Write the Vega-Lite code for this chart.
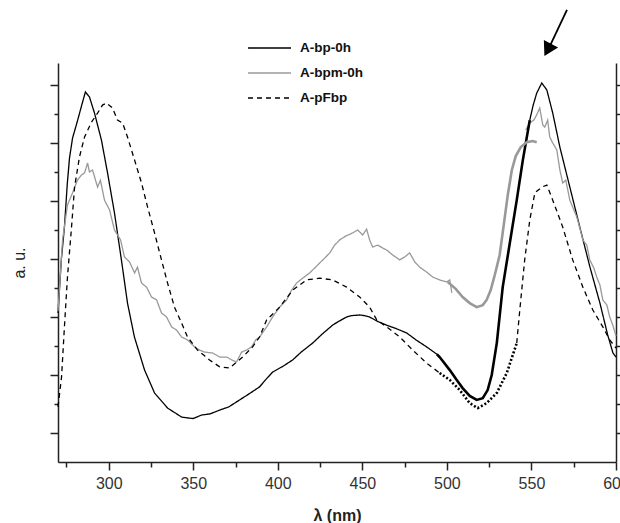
{
  "$schema": "https://vega.github.io/schema/vega-lite/v6.json",
  "width": 558,
  "height": 399,
  "autosize": {"type": "none"},
  "padding": {"left": 58, "top": 63, "right": 4, "bottom": 61},
  "background": "white",
  "config": {
    "view": {"stroke": null},
    "axis": {"grid": false, "domainColor": "#222", "tickColor": "#222", "domainWidth": 1.5, "tickWidth": 1.5, "labelFont": "Liberation Sans", "titleFont": "Liberation Sans", "labelColor": "#333", "titleColor": "#222"},
    "legend": {"orient": "none", "legendX": 189, "legendY": -27.5, "title": null, "symbolType": "stroke", "symbolSize": 1849, "symbolStrokeWidth": 1.5, "labelFontSize": 13.5, "labelFontWeight": "bold", "labelFont": "Liberation Sans", "labelColor": "#111", "labelOffset": 8, "rowPadding": 0, "clipHeight": 25}
  },
  "data": {"values": [
    {"series": "A-bp-0h", "part": "measured", "seg": 1, "wl": 270, "au": 5.14},
    {"series": "A-bp-0h", "part": "measured", "seg": 1, "wl": 272, "au": 7.0},
    {"series": "A-bp-0h", "part": "measured", "seg": 1, "wl": 273.8, "au": 8.1},
    {"series": "A-bp-0h", "part": "measured", "seg": 1, "wl": 275.5, "au": 9.6},
    {"series": "A-bp-0h", "part": "measured", "seg": 1, "wl": 276.8, "au": 10.48},
    {"series": "A-bp-0h", "part": "measured", "seg": 1, "wl": 278.6, "au": 11.17},
    {"series": "A-bp-0h", "part": "measured", "seg": 1, "wl": 281.5, "au": 11.76},
    {"series": "A-bp-0h", "part": "measured", "seg": 1, "wl": 284, "au": 12.3},
    {"series": "A-bp-0h", "part": "measured", "seg": 1, "wl": 286.2, "au": 12.76},
    {"series": "A-bp-0h", "part": "measured", "seg": 1, "wl": 288.6, "au": 12.59},
    {"series": "A-bp-0h", "part": "measured", "seg": 1, "wl": 291.6, "au": 12.03},
    {"series": "A-bp-0h", "part": "measured", "seg": 1, "wl": 295.7, "au": 11.1},
    {"series": "A-bp-0h", "part": "measured", "seg": 1, "wl": 299.3, "au": 9.97},
    {"series": "A-bp-0h", "part": "measured", "seg": 1, "wl": 303.4, "au": 8.59},
    {"series": "A-bp-0h", "part": "measured", "seg": 1, "wl": 307.5, "au": 6.97},
    {"series": "A-bp-0h", "part": "measured", "seg": 1, "wl": 311.1, "au": 5.48},
    {"series": "A-bp-0h", "part": "measured", "seg": 1, "wl": 315.2, "au": 4.31},
    {"series": "A-bp-0h", "part": "measured", "seg": 1, "wl": 321.2, "au": 3.17},
    {"series": "A-bp-0h", "part": "measured", "seg": 1, "wl": 327.1, "au": 2.38},
    {"series": "A-bp-0h", "part": "measured", "seg": 1, "wl": 334.8, "au": 1.86},
    {"series": "A-bp-0h", "part": "measured", "seg": 1, "wl": 343.1, "au": 1.55},
    {"series": "A-bp-0h", "part": "measured", "seg": 1, "wl": 346.6, "au": 1.52},
    {"series": "A-bp-0h", "part": "measured", "seg": 1, "wl": 350, "au": 1.5},
    {"series": "A-bp-0h", "part": "measured", "seg": 1, "wl": 354.9, "au": 1.62},
    {"series": "A-bp-0h", "part": "measured", "seg": 1, "wl": 360, "au": 1.66},
    {"series": "A-bp-0h", "part": "measured", "seg": 1, "wl": 365.6, "au": 1.79},
    {"series": "A-bp-0h", "part": "measured", "seg": 1, "wl": 371, "au": 1.9},
    {"series": "A-bp-0h", "part": "measured", "seg": 1, "wl": 377.4, "au": 2.14},
    {"series": "A-bp-0h", "part": "measured", "seg": 1, "wl": 383, "au": 2.35},
    {"series": "A-bp-0h", "part": "measured", "seg": 1, "wl": 389.2, "au": 2.59},
    {"series": "A-bp-0h", "part": "measured", "seg": 1, "wl": 393, "au": 2.85},
    {"series": "A-bp-0h", "part": "measured", "seg": 1, "wl": 396.9, "au": 3.1},
    {"series": "A-bp-0h", "part": "measured", "seg": 1, "wl": 403, "au": 3.3},
    {"series": "A-bp-0h", "part": "measured", "seg": 1, "wl": 408.8, "au": 3.52},
    {"series": "A-bp-0h", "part": "measured", "seg": 1, "wl": 414, "au": 3.8},
    {"series": "A-bp-0h", "part": "measured", "seg": 1, "wl": 420.6, "au": 4.1},
    {"series": "A-bp-0h", "part": "measured", "seg": 1, "wl": 426, "au": 4.4},
    {"series": "A-bp-0h", "part": "measured", "seg": 1, "wl": 432.4, "au": 4.72},
    {"series": "A-bp-0h", "part": "measured", "seg": 1, "wl": 436, "au": 4.85},
    {"series": "A-bp-0h", "part": "measured", "seg": 1, "wl": 440.7, "au": 5.0},
    {"series": "A-bp-0h", "part": "measured", "seg": 1, "wl": 444, "au": 5.05},
    {"series": "A-bp-0h", "part": "measured", "seg": 1, "wl": 448.4, "au": 5.07},
    {"series": "A-bp-0h", "part": "measured", "seg": 1, "wl": 451, "au": 5.05},
    {"series": "A-bp-0h", "part": "measured", "seg": 1, "wl": 454.3, "au": 5.0},
    {"series": "A-bp-0h", "part": "measured", "seg": 1, "wl": 459, "au": 4.85},
    {"series": "A-bp-0h", "part": "measured", "seg": 1, "wl": 464.3, "au": 4.72},
    {"series": "A-bp-0h", "part": "measured", "seg": 1, "wl": 470, "au": 4.6},
    {"series": "A-bp-0h", "part": "measured", "seg": 1, "wl": 476.2, "au": 4.45},
    {"series": "A-bp-0h", "part": "measured", "seg": 1, "wl": 482, "au": 4.2},
    {"series": "A-bp-0h", "part": "measured", "seg": 1, "wl": 488, "au": 3.97},
    {"series": "A-bp-0h", "part": "measured", "seg": 1, "wl": 494, "au": 3.72},
    {"series": "A-bp-0h", "part": "extrapolated", "seg": 2, "wl": 494, "au": 3.72},
    {"series": "A-bp-0h", "part": "extrapolated", "seg": 2, "wl": 495.7, "au": 3.62},
    {"series": "A-bp-0h", "part": "extrapolated", "seg": 2, "wl": 501.7, "au": 3.17},
    {"series": "A-bp-0h", "part": "extrapolated", "seg": 2, "wl": 505.5, "au": 2.85},
    {"series": "A-bp-0h", "part": "extrapolated", "seg": 2, "wl": 509.3, "au": 2.55},
    {"series": "A-bp-0h", "part": "extrapolated", "seg": 2, "wl": 513.5, "au": 2.28},
    {"series": "A-bp-0h", "part": "extrapolated", "seg": 2, "wl": 517.6, "au": 2.14},
    {"series": "A-bp-0h", "part": "extrapolated", "seg": 2, "wl": 521.2, "au": 2.2},
    {"series": "A-bp-0h", "part": "extrapolated", "seg": 2, "wl": 524.1, "au": 2.48},
    {"series": "A-bp-0h", "part": "extrapolated", "seg": 2, "wl": 526.5, "au": 3.0},
    {"series": "A-bp-0h", "part": "extrapolated", "seg": 2, "wl": 529.5, "au": 4.1},
    {"series": "A-bp-0h", "part": "extrapolated", "seg": 2, "wl": 533, "au": 6.03},
    {"series": "A-bp-0h", "part": "extrapolated", "seg": 2, "wl": 537.2, "au": 7.55},
    {"series": "A-bp-0h", "part": "extrapolated", "seg": 2, "wl": 541.3, "au": 9.03},
    {"series": "A-bp-0h", "part": "extrapolated", "seg": 2, "wl": 544.9, "au": 10.41},
    {"series": "A-bp-0h", "part": "extrapolated", "seg": 2, "wl": 549, "au": 11.79},
    {"series": "A-bp-0h", "part": "measured", "seg": 3, "wl": 549, "au": 11.79},
    {"series": "A-bp-0h", "part": "measured", "seg": 3, "wl": 551, "au": 12.3},
    {"series": "A-bp-0h", "part": "measured", "seg": 3, "wl": 553.1, "au": 12.72},
    {"series": "A-bp-0h", "part": "measured", "seg": 3, "wl": 556.1, "au": 13.07},
    {"series": "A-bp-0h", "part": "measured", "seg": 3, "wl": 559.1, "au": 12.83},
    {"series": "A-bp-0h", "part": "measured", "seg": 3, "wl": 562.6, "au": 12.03},
    {"series": "A-bp-0h", "part": "measured", "seg": 3, "wl": 566.8, "au": 10.86},
    {"series": "A-bp-0h", "part": "measured", "seg": 3, "wl": 572.7, "au": 9.48},
    {"series": "A-bp-0h", "part": "measured", "seg": 3, "wl": 578.6, "au": 8.1},
    {"series": "A-bp-0h", "part": "measured", "seg": 3, "wl": 584.6, "au": 6.72},
    {"series": "A-bp-0h", "part": "measured", "seg": 3, "wl": 590.5, "au": 5.48},
    {"series": "A-bp-0h", "part": "measured", "seg": 3, "wl": 595, "au": 4.4},
    {"series": "A-bp-0h", "part": "measured", "seg": 3, "wl": 598.2, "au": 3.76},
    {"series": "A-bp-0h", "part": "measured", "seg": 3, "wl": 600, "au": 3.62},

    {"series": "A-bpm-0h", "part": "measured", "seg": 4, "wl": 270, "au": 5.2},
    {"series": "A-bpm-0h", "part": "measured", "seg": 4, "wl": 272.7, "au": 7.66},
    {"series": "A-bpm-0h", "part": "measured", "seg": 4, "wl": 275.6, "au": 8.86},
    {"series": "A-bpm-0h", "part": "measured", "seg": 4, "wl": 278.6, "au": 9.28},
    {"series": "A-bpm-0h", "part": "measured", "seg": 4, "wl": 281.5, "au": 9.72},
    {"series": "A-bpm-0h", "part": "measured", "seg": 4, "wl": 283.9, "au": 9.9},
    {"series": "A-bpm-0h", "part": "measured", "seg": 4, "wl": 285.7, "au": 9.97},
    {"series": "A-bpm-0h", "part": "measured", "seg": 4, "wl": 287.5, "au": 10.31},
    {"series": "A-bpm-0h", "part": "measured", "seg": 4, "wl": 288.6, "au": 10.0},
    {"series": "A-bpm-0h", "part": "measured", "seg": 4, "wl": 290.4, "au": 10.07},
    {"series": "A-bpm-0h", "part": "measured", "seg": 4, "wl": 293.4, "au": 9.48},
    {"series": "A-bpm-0h", "part": "measured", "seg": 4, "wl": 295.1, "au": 9.72},
    {"series": "A-bpm-0h", "part": "measured", "seg": 4, "wl": 297.5, "au": 9.03},
    {"series": "A-bpm-0h", "part": "measured", "seg": 4, "wl": 300.5, "au": 8.69},
    {"series": "A-bpm-0h", "part": "measured", "seg": 4, "wl": 303.4, "au": 8.0},
    {"series": "A-bpm-0h", "part": "measured", "seg": 4, "wl": 307, "au": 7.66},
    {"series": "A-bpm-0h", "part": "measured", "seg": 4, "wl": 309.3, "au": 7.07},
    {"series": "A-bpm-0h", "part": "measured", "seg": 4, "wl": 312.3, "au": 6.9},
    {"series": "A-bpm-0h", "part": "measured", "seg": 4, "wl": 315.3, "au": 6.52},
    {"series": "A-bpm-0h", "part": "measured", "seg": 4, "wl": 317, "au": 6.72},
    {"series": "A-bpm-0h", "part": "measured", "seg": 4, "wl": 319.4, "au": 6.17},
    {"series": "A-bpm-0h", "part": "measured", "seg": 4, "wl": 322.4, "au": 6.03},
    {"series": "A-bpm-0h", "part": "measured", "seg": 4, "wl": 325.3, "au": 5.69},
    {"series": "A-bpm-0h", "part": "measured", "seg": 4, "wl": 328.3, "au": 5.59},
    {"series": "A-bpm-0h", "part": "measured", "seg": 4, "wl": 331.2, "au": 5.14},
    {"series": "A-bpm-0h", "part": "measured", "seg": 4, "wl": 334.2, "au": 5.0},
    {"series": "A-bpm-0h", "part": "measured", "seg": 4, "wl": 337.2, "au": 4.66},
    {"series": "A-bpm-0h", "part": "measured", "seg": 4, "wl": 340.1, "au": 4.55},
    {"series": "A-bpm-0h", "part": "measured", "seg": 4, "wl": 343.1, "au": 4.31},
    {"series": "A-bpm-0h", "part": "measured", "seg": 4, "wl": 346.6, "au": 4.21},
    {"series": "A-bpm-0h", "part": "measured", "seg": 4, "wl": 350.8, "au": 3.97},
    {"series": "A-bpm-0h", "part": "measured", "seg": 4, "wl": 353.7, "au": 3.86},
    {"series": "A-bpm-0h", "part": "measured", "seg": 4, "wl": 356.7, "au": 3.79},
    {"series": "A-bpm-0h", "part": "measured", "seg": 4, "wl": 361.4, "au": 3.76},
    {"series": "A-bpm-0h", "part": "measured", "seg": 4, "wl": 365.6, "au": 3.62},
    {"series": "A-bpm-0h", "part": "measured", "seg": 4, "wl": 369.7, "au": 3.62},
    {"series": "A-bpm-0h", "part": "measured", "seg": 4, "wl": 372.7, "au": 3.52},
    {"series": "A-bpm-0h", "part": "measured", "seg": 4, "wl": 375.6, "au": 3.45},
    {"series": "A-bpm-0h", "part": "measured", "seg": 4, "wl": 378.6, "au": 3.79},
    {"series": "A-bpm-0h", "part": "measured", "seg": 4, "wl": 381.5, "au": 3.86},
    {"series": "A-bpm-0h", "part": "measured", "seg": 4, "wl": 384.5, "au": 3.97},
    {"series": "A-bpm-0h", "part": "measured", "seg": 4, "wl": 386.9, "au": 4.21},
    {"series": "A-bpm-0h", "part": "measured", "seg": 4, "wl": 389.2, "au": 4.31},
    {"series": "A-bpm-0h", "part": "measured", "seg": 4, "wl": 393.4, "au": 4.66},
    {"series": "A-bpm-0h", "part": "measured", "seg": 4, "wl": 396.9, "au": 5.0},
    {"series": "A-bpm-0h", "part": "measured", "seg": 4, "wl": 401.1, "au": 5.34},
    {"series": "A-bpm-0h", "part": "measured", "seg": 4, "wl": 405.2, "au": 5.59},
    {"series": "A-bpm-0h", "part": "measured", "seg": 4, "wl": 408.2, "au": 5.93},
    {"series": "A-bpm-0h", "part": "measured", "seg": 4, "wl": 411.1, "au": 6.17},
    {"series": "A-bpm-0h", "part": "measured", "seg": 4, "wl": 414.7, "au": 6.34},
    {"series": "A-bpm-0h", "part": "measured", "seg": 4, "wl": 418.8, "au": 6.52},
    {"series": "A-bpm-0h", "part": "measured", "seg": 4, "wl": 421.8, "au": 6.69},
    {"series": "A-bpm-0h", "part": "measured", "seg": 4, "wl": 424.7, "au": 6.86},
    {"series": "A-bpm-0h", "part": "measured", "seg": 4, "wl": 427.7, "au": 7.03},
    {"series": "A-bpm-0h", "part": "measured", "seg": 4, "wl": 430.7, "au": 7.21},
    {"series": "A-bpm-0h", "part": "measured", "seg": 4, "wl": 433.6, "au": 7.48},
    {"series": "A-bpm-0h", "part": "measured", "seg": 4, "wl": 436.6, "au": 7.66},
    {"series": "A-bpm-0h", "part": "measured", "seg": 4, "wl": 440.1, "au": 7.79},
    {"series": "A-bpm-0h", "part": "measured", "seg": 4, "wl": 444.3, "au": 7.9},
    {"series": "A-bpm-0h", "part": "measured", "seg": 4, "wl": 447.2, "au": 8.0},
    {"series": "A-bpm-0h", "part": "measured", "seg": 4, "wl": 450.2, "au": 7.83},
    {"series": "A-bpm-0h", "part": "measured", "seg": 4, "wl": 452.5, "au": 8.03},
    {"series": "A-bpm-0h", "part": "measured", "seg": 4, "wl": 454.3, "au": 7.66},
    {"series": "A-bpm-0h", "part": "measured", "seg": 4, "wl": 456.1, "au": 7.41},
    {"series": "A-bpm-0h", "part": "measured", "seg": 4, "wl": 459, "au": 7.48},
    {"series": "A-bpm-0h", "part": "measured", "seg": 4, "wl": 462, "au": 7.38},
    {"series": "A-bpm-0h", "part": "measured", "seg": 4, "wl": 464.4, "au": 7.31},
    {"series": "A-bpm-0h", "part": "measured", "seg": 4, "wl": 467.9, "au": 7.14},
    {"series": "A-bpm-0h", "part": "measured", "seg": 4, "wl": 472.1, "au": 6.97},
    {"series": "A-bpm-0h", "part": "measured", "seg": 4, "wl": 475, "au": 7.07},
    {"series": "A-bpm-0h", "part": "measured", "seg": 4, "wl": 478, "au": 7.21},
    {"series": "A-bpm-0h", "part": "measured", "seg": 4, "wl": 481, "au": 6.9},
    {"series": "A-bpm-0h", "part": "measured", "seg": 4, "wl": 483.9, "au": 6.72},
    {"series": "A-bpm-0h", "part": "measured", "seg": 4, "wl": 488, "au": 6.55},
    {"series": "A-bpm-0h", "part": "measured", "seg": 4, "wl": 491.6, "au": 6.38},
    {"series": "A-bpm-0h", "part": "measured", "seg": 4, "wl": 495.7, "au": 6.28},
    {"series": "A-bpm-0h", "part": "measured", "seg": 4, "wl": 499.9, "au": 6.21},
    {"series": "A-bpm-0h", "part": "measured", "seg": 4, "wl": 501.7, "au": 6.28},
    {"series": "A-bpm-0h", "part": "measured", "seg": 4, "wl": 502.9, "au": 5.83},
    {"series": "A-bpm-0h", "part": "extrapolated", "seg": 5, "wl": 500.5, "au": 6.21},
    {"series": "A-bpm-0h", "part": "extrapolated", "seg": 5, "wl": 505.2, "au": 5.97},
    {"series": "A-bpm-0h", "part": "extrapolated", "seg": 5, "wl": 509.3, "au": 5.69},
    {"series": "A-bpm-0h", "part": "extrapolated", "seg": 5, "wl": 513.5, "au": 5.48},
    {"series": "A-bpm-0h", "part": "extrapolated", "seg": 5, "wl": 517.6, "au": 5.34},
    {"series": "A-bpm-0h", "part": "extrapolated", "seg": 5, "wl": 521.2, "au": 5.41},
    {"series": "A-bpm-0h", "part": "extrapolated", "seg": 5, "wl": 523.5, "au": 5.59},
    {"series": "A-bpm-0h", "part": "extrapolated", "seg": 5, "wl": 525.9, "au": 5.93},
    {"series": "A-bpm-0h", "part": "extrapolated", "seg": 5, "wl": 528.3, "au": 6.45},
    {"series": "A-bpm-0h", "part": "extrapolated", "seg": 5, "wl": 531.2, "au": 7.14},
    {"series": "A-bpm-0h", "part": "extrapolated", "seg": 5, "wl": 533.6, "au": 8.17},
    {"series": "A-bpm-0h", "part": "extrapolated", "seg": 5, "wl": 536, "au": 9.21},
    {"series": "A-bpm-0h", "part": "extrapolated", "seg": 5, "wl": 538.4, "au": 10.07},
    {"series": "A-bpm-0h", "part": "extrapolated", "seg": 5, "wl": 540.7, "au": 10.55},
    {"series": "A-bpm-0h", "part": "extrapolated", "seg": 5, "wl": 543.7, "au": 10.86},
    {"series": "A-bpm-0h", "part": "extrapolated", "seg": 5, "wl": 547.2, "au": 11.03},
    {"series": "A-bpm-0h", "part": "extrapolated", "seg": 5, "wl": 550.8, "au": 11.07},
    {"series": "A-bpm-0h", "part": "extrapolated", "seg": 5, "wl": 553.1, "au": 11.03},
    {"series": "A-bpm-0h", "part": "measured", "seg": 6, "wl": 546.6, "au": 11.45},
    {"series": "A-bpm-0h", "part": "measured", "seg": 6, "wl": 549, "au": 11.69},
    {"series": "A-bpm-0h", "part": "measured", "seg": 6, "wl": 551.4, "au": 11.79},
    {"series": "A-bpm-0h", "part": "measured", "seg": 6, "wl": 553.1, "au": 11.97},
    {"series": "A-bpm-0h", "part": "measured", "seg": 6, "wl": 554.9, "au": 12.21},
    {"series": "A-bpm-0h", "part": "measured", "seg": 6, "wl": 556.7, "au": 11.62},
    {"series": "A-bpm-0h", "part": "measured", "seg": 6, "wl": 557.9, "au": 11.55},
    {"series": "A-bpm-0h", "part": "measured", "seg": 6, "wl": 559.6, "au": 11.79},
    {"series": "A-bpm-0h", "part": "measured", "seg": 6, "wl": 560.8, "au": 11.21},
    {"series": "A-bpm-0h", "part": "measured", "seg": 6, "wl": 562.6, "au": 11.0},
    {"series": "A-bpm-0h", "part": "measured", "seg": 6, "wl": 565, "au": 10.76},
    {"series": "A-bpm-0h", "part": "measured", "seg": 6, "wl": 566.8, "au": 10.07},
    {"series": "A-bpm-0h", "part": "measured", "seg": 6, "wl": 568.5, "au": 9.62},
    {"series": "A-bpm-0h", "part": "measured", "seg": 6, "wl": 570.3, "au": 9.72},
    {"series": "A-bpm-0h", "part": "measured", "seg": 6, "wl": 572.7, "au": 9.03},
    {"series": "A-bpm-0h", "part": "measured", "seg": 6, "wl": 575.1, "au": 8.69},
    {"series": "A-bpm-0h", "part": "measured", "seg": 6, "wl": 576.8, "au": 8.45},
    {"series": "A-bpm-0h", "part": "measured", "seg": 6, "wl": 578.6, "au": 8.07},
    {"series": "A-bpm-0h", "part": "measured", "seg": 6, "wl": 580.4, "au": 7.66},
    {"series": "A-bpm-0h", "part": "measured", "seg": 6, "wl": 582.7, "au": 7.48},
    {"series": "A-bpm-0h", "part": "measured", "seg": 6, "wl": 584.5, "au": 6.97},
    {"series": "A-bpm-0h", "part": "measured", "seg": 6, "wl": 586.9, "au": 6.69},
    {"series": "A-bpm-0h", "part": "measured", "seg": 6, "wl": 588.6, "au": 6.38},
    {"series": "A-bpm-0h", "part": "measured", "seg": 6, "wl": 590.5, "au": 6.1},
    {"series": "A-bpm-0h", "part": "measured", "seg": 6, "wl": 592.2, "au": 5.59},
    {"series": "A-bpm-0h", "part": "measured", "seg": 6, "wl": 594.6, "au": 5.41},
    {"series": "A-bpm-0h", "part": "measured", "seg": 6, "wl": 596.3, "au": 5.0},
    {"series": "A-bpm-0h", "part": "measured", "seg": 6, "wl": 598.1, "au": 4.72},
    {"series": "A-bpm-0h", "part": "measured", "seg": 6, "wl": 600, "au": 4.35},

    {"series": "A-pFbp", "part": "measured", "seg": 7, "wl": 270, "au": 1.9},
    {"series": "A-pFbp", "part": "measured", "seg": 7, "wl": 272.1, "au": 2.93},
    {"series": "A-pFbp", "part": "measured", "seg": 7, "wl": 273.8, "au": 4.66},
    {"series": "A-pFbp", "part": "measured", "seg": 7, "wl": 275.6, "au": 6.38},
    {"series": "A-pFbp", "part": "measured", "seg": 7, "wl": 278, "au": 8.1},
    {"series": "A-pFbp", "part": "measured", "seg": 7, "wl": 279.8, "au": 9.48},
    {"series": "A-pFbp", "part": "measured", "seg": 7, "wl": 282.7, "au": 10.52},
    {"series": "A-pFbp", "part": "measured", "seg": 7, "wl": 285.7, "au": 11.21},
    {"series": "A-pFbp", "part": "measured", "seg": 7, "wl": 289.8, "au": 11.72},
    {"series": "A-pFbp", "part": "measured", "seg": 7, "wl": 293.4, "au": 12.03},
    {"series": "A-pFbp", "part": "measured", "seg": 7, "wl": 296.3, "au": 12.31},
    {"series": "A-pFbp", "part": "measured", "seg": 7, "wl": 298.7, "au": 12.38},
    {"series": "A-pFbp", "part": "measured", "seg": 7, "wl": 302.2, "au": 12.21},
    {"series": "A-pFbp", "part": "measured", "seg": 7, "wl": 305.2, "au": 11.79},
    {"series": "A-pFbp", "part": "measured", "seg": 7, "wl": 308.2, "au": 11.69},
    {"series": "A-pFbp", "part": "measured", "seg": 7, "wl": 311.1, "au": 11.21},
    {"series": "A-pFbp", "part": "measured", "seg": 7, "wl": 315.3, "au": 10.41},
    {"series": "A-pFbp", "part": "measured", "seg": 7, "wl": 319.4, "au": 9.62},
    {"series": "A-pFbp", "part": "measured", "seg": 7, "wl": 323, "au": 8.79},
    {"series": "A-pFbp", "part": "measured", "seg": 7, "wl": 327.1, "au": 7.9},
    {"series": "A-pFbp", "part": "measured", "seg": 7, "wl": 331.2, "au": 6.97},
    {"series": "A-pFbp", "part": "measured", "seg": 7, "wl": 334.8, "au": 6.17},
    {"series": "A-pFbp", "part": "measured", "seg": 7, "wl": 338.9, "au": 5.34},
    {"series": "A-pFbp", "part": "measured", "seg": 7, "wl": 343.1, "au": 4.79},
    {"series": "A-pFbp", "part": "measured", "seg": 7, "wl": 346.6, "au": 4.31},
    {"series": "A-pFbp", "part": "measured", "seg": 7, "wl": 352.5, "au": 3.86},
    {"series": "A-pFbp", "part": "measured", "seg": 7, "wl": 356.7, "au": 3.66},
    {"series": "A-pFbp", "part": "measured", "seg": 7, "wl": 359.6, "au": 3.52},
    {"series": "A-pFbp", "part": "measured", "seg": 7, "wl": 365.6, "au": 3.28},
    {"series": "A-pFbp", "part": "measured", "seg": 7, "wl": 371.5, "au": 3.24},
    {"series": "A-pFbp", "part": "measured", "seg": 7, "wl": 379.2, "au": 3.62},
    {"series": "A-pFbp", "part": "measured", "seg": 7, "wl": 385.1, "au": 3.97},
    {"series": "A-pFbp", "part": "measured", "seg": 7, "wl": 389.2, "au": 4.31},
    {"series": "A-pFbp", "part": "measured", "seg": 7, "wl": 393.4, "au": 4.9},
    {"series": "A-pFbp", "part": "measured", "seg": 7, "wl": 401.1, "au": 5.34},
    {"series": "A-pFbp", "part": "measured", "seg": 7, "wl": 408.8, "au": 5.93},
    {"series": "A-pFbp", "part": "measured", "seg": 7, "wl": 417, "au": 6.28},
    {"series": "A-pFbp", "part": "measured", "seg": 7, "wl": 424.7, "au": 6.34},
    {"series": "A-pFbp", "part": "measured", "seg": 7, "wl": 432.4, "au": 6.28},
    {"series": "A-pFbp", "part": "measured", "seg": 7, "wl": 440.7, "au": 6.03},
    {"series": "A-pFbp", "part": "measured", "seg": 7, "wl": 448.4, "au": 5.69},
    {"series": "A-pFbp", "part": "measured", "seg": 7, "wl": 454.3, "au": 5.34},
    {"series": "A-pFbp", "part": "measured", "seg": 7, "wl": 458.5, "au": 4.9},
    {"series": "A-pFbp", "part": "measured", "seg": 7, "wl": 464.4, "au": 4.66},
    {"series": "A-pFbp", "part": "measured", "seg": 7, "wl": 472.1, "au": 4.31},
    {"series": "A-pFbp", "part": "measured", "seg": 7, "wl": 479.8, "au": 3.86},
    {"series": "A-pFbp", "part": "measured", "seg": 7, "wl": 488, "au": 3.41},
    {"series": "A-pFbp", "part": "measured", "seg": 7, "wl": 495.7, "au": 3.07},
    {"series": "A-pFbp", "part": "extrapolated", "seg": 8, "wl": 495.7, "au": 3.07},
    {"series": "A-pFbp", "part": "extrapolated", "seg": 8, "wl": 501.7, "au": 2.83},
    {"series": "A-pFbp", "part": "extrapolated", "seg": 8, "wl": 507.6, "au": 2.48},
    {"series": "A-pFbp", "part": "extrapolated", "seg": 8, "wl": 513.5, "au": 2.03},
    {"series": "A-pFbp", "part": "extrapolated", "seg": 8, "wl": 518.2, "au": 1.86},
    {"series": "A-pFbp", "part": "extrapolated", "seg": 8, "wl": 523.5, "au": 2.03},
    {"series": "A-pFbp", "part": "extrapolated", "seg": 8, "wl": 529.5, "au": 2.38},
    {"series": "A-pFbp", "part": "extrapolated", "seg": 8, "wl": 535.4, "au": 3.07},
    {"series": "A-pFbp", "part": "extrapolated", "seg": 8, "wl": 541.3, "au": 4.1},
    {"series": "A-pFbp", "part": "measured", "seg": 9, "wl": 541.3, "au": 4.1},
    {"series": "A-pFbp", "part": "measured", "seg": 9, "wl": 543.1, "au": 5.24},
    {"series": "A-pFbp", "part": "measured", "seg": 9, "wl": 546, "au": 6.97},
    {"series": "A-pFbp", "part": "measured", "seg": 9, "wl": 549, "au": 8.34},
    {"series": "A-pFbp", "part": "measured", "seg": 9, "wl": 552, "au": 9.28},
    {"series": "A-pFbp", "part": "measured", "seg": 9, "wl": 556.1, "au": 9.48},
    {"series": "A-pFbp", "part": "measured", "seg": 9, "wl": 559.1, "au": 9.55},
    {"series": "A-pFbp", "part": "measured", "seg": 9, "wl": 562.6, "au": 9.03},
    {"series": "A-pFbp", "part": "measured", "seg": 9, "wl": 568.5, "au": 8.1},
    {"series": "A-pFbp", "part": "measured", "seg": 9, "wl": 574.4, "au": 6.97},
    {"series": "A-pFbp", "part": "measured", "seg": 9, "wl": 580.4, "au": 6.03},
    {"series": "A-pFbp", "part": "measured", "seg": 9, "wl": 586.3, "au": 5.24},
    {"series": "A-pFbp", "part": "measured", "seg": 9, "wl": 592.2, "au": 4.66},
    {"series": "A-pFbp", "part": "measured", "seg": 9, "wl": 596.3, "au": 4.21},
    {"series": "A-pFbp", "part": "measured", "seg": 9, "wl": 600, "au": 3.93}
  ]},
  "layer": [
    {
      "transform": [{"filter": "datum.part === 'measured'"}],
      "mark": {"type": "line", "strokeWidth": 1.3},
      "encoding": {
        "x": {"field": "wl", "type": "quantitative", "scale": {"domain": [270, 600], "nice": false, "zero": false},
              "axis": {"orient": "bottom", "values": [300, 350, 400, 450, 500, 550, 600], "tickSize": 8, "labelFontSize": 16, "labelPadding": 5, "labelFlush": false, "title": "λ (nm)", "titleFontSize": 16, "titleFontWeight": "bold", "titlePadding": 16}},
        "y": {"field": "au", "type": "quantitative", "scale": {"domain": [0, 13.76], "nice": false, "zero": false},
              "axis": {"orient": "left", "values": [1, 3, 5, 7, 9, 11, 13], "tickSize": 8, "labels": false, "title": "a. u.", "titleFontSize": 16, "titleFontWeight": "normal", "titlePadding": 22}},
        "color": {"field": "series", "type": "nominal", "scale": {"domain": ["A-bp-0h", "A-bpm-0h", "A-pFbp"], "range": ["#000000", "#999999", "#000000"]}},
        "strokeDash": {"field": "series", "type": "nominal", "scale": {"domain": ["A-bp-0h", "A-bpm-0h", "A-pFbp"], "range": [[1, 0], [1, 0], [5, 4]]}},
        "detail": {"field": "seg", "type": "nominal"},
        "order": {"field": "wl", "type": "quantitative"}
      }
    },
    {
      "transform": [{"filter": "datum.part === 'extrapolated' && datum.series === 'A-bp-0h'"}],
      "mark": {"type": "line", "strokeWidth": 2.6, "color": "#000000"},
      "encoding": {
        "x": {"field": "wl", "type": "quantitative", "axis": {"orient": "bottom", "values": [275, 325, 375, 425, 475, 525, 575], "tickSize": 5, "labels": false, "domain": false, "title": null}},
        "y": {"field": "au", "type": "quantitative", "axis": {"orient": "left", "values": [2, 4, 6, 8, 10, 12], "tickSize": 4, "labels": false, "domain": false, "title": null}},
        "order": {"field": "wl", "type": "quantitative"}
      }
    },
    {
      "transform": [{"filter": "datum.part === 'extrapolated' && datum.series === 'A-bpm-0h'"}],
      "mark": {"type": "line", "strokeWidth": 2.6, "color": "#999999"},
      "encoding": {
        "x": {"field": "wl", "type": "quantitative", "axis": null},
        "y": {"field": "au", "type": "quantitative", "axis": {"orient": "right", "values": [1, 3, 5, 7, 9, 11, 13], "tickSize": 8, "labels": false, "title": null}},
        "order": {"field": "wl", "type": "quantitative"}
      }
    },
    {
      "transform": [{"filter": "datum.part === 'extrapolated' && datum.series === 'A-pFbp'"}],
      "mark": {"type": "line", "strokeWidth": 2.6, "color": "#000000", "strokeDash": [2, 2]},
      "encoding": {
        "x": {"field": "wl", "type": "quantitative", "axis": null},
        "y": {"field": "au", "type": "quantitative", "axis": {"orient": "right", "values": [2, 4, 6, 8, 10, 12], "tickSize": 4, "labels": false, "domain": false, "title": null}},
        "order": {"field": "wl", "type": "quantitative"}
      }
    },
    {
      "data": {"values": [{"note": "peak arrow"}]},
      "mark": {"type": "rule", "strokeWidth": 1.8, "color": "#000000"},
      "encoding": {
        "x": {"datum": 571, "type": "quantitative", "axis": null},
        "y": {"datum": 15.59, "type": "quantitative", "axis": null},
        "x2": {"datum": 560.8},
        "y2": {"datum": 14.33}
      }
    },
    {
      "data": {"values": [{"note": "peak arrow head"}]},
      "mark": {"type": "point", "shape": "triangle-down", "filled": true, "color": "#000000", "opacity": 1, "size": 260, "angle": 28},
      "encoding": {
        "x": {"datum": 559.6, "type": "quantitative", "axis": null},
        "y": {"datum": 14.21, "type": "quantitative", "axis": null}
      }
    }
  ],
  "resolve": {"axis": {"x": "independent", "y": "independent"}}
}
